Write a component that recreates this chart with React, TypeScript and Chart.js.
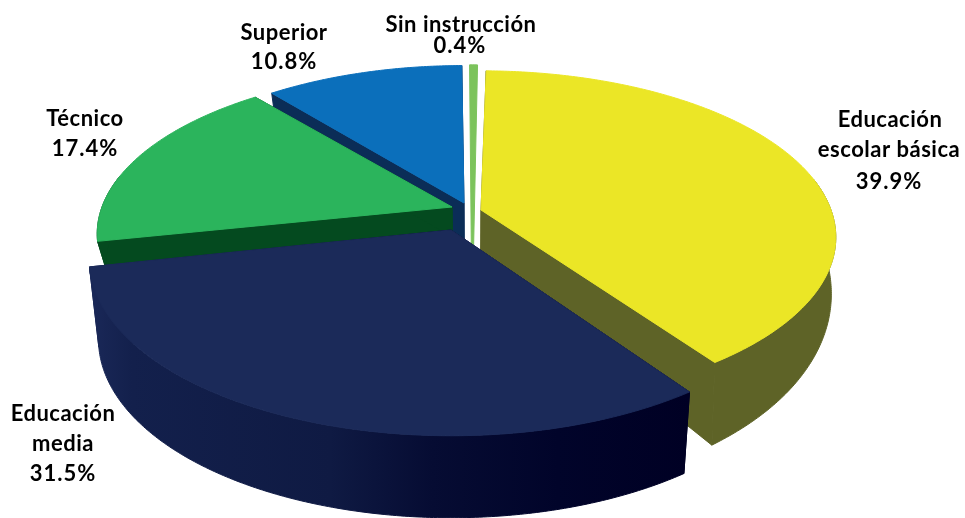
import React, { useEffect, useRef } from "react";
import { Chart, registerables } from "chart.js";

Chart.register(...registerables);

const categories = ["Sin instrucción", "Educación escolar básica", "Educación media", "Técnico", "Superior"];
const shares = [0.4, 39.9, 31.5, 17.4, 10.8];

const topColors = ["#7cc35c", "#ebe626", "#1b2a59", "#2bb45c", "#0b6fbb"];
const wallColors = ["#7cc35c", "#5e6327", "#1b2a59", "#044a1f", "#0b2d57"];

// Look of each slice in the tilted view, in pixels: apex, horizontal and vertical reach, wall height
const apexX = [472, 481, 451, 452, 464];
const apexY = [320, 210, 230, 207, 203];
const reachX = [370, 350, 357, 350, 342];
const reachY = [297, 162, 172, 160, 160];
const wallBase = [0, 50, 80, 30, 36];
const wallGrowth = [0, 40, 2, 0, 0];
const wallTaper = [0.025, 0.012, 0.025, 0.025, 0.025];
const drawOrder = [4, 3, 0, 1, 2];

const PERSPECTIVE = 0.164;
const AXIS_X = 465;
const ROTATION_DEG = -0.44;

const labelLines = [
  [["Sin instrucción", 461, 25]],
  [["Educación", 890, 120], ["escolar básica", 889, 150]],
  [["Educación", 63, 414], ["media", 63, 444]],
  [["Técnico", 85, 119]],
  [["Superior", 284, 33]],
] as [string, number, number][][];
const labelValueX = [460, 889, 63, 85, 284];
const labelValueY = [46, 182, 474, 149, 62];

const project = (i: number, t: number, onWall: boolean): [number, number] => {
  const X = Math.sin(t);
  const Y = -Math.cos(t);
  const w = 1 - PERSPECTIVE * Y;
  const sx = apexX[i] + (reachX[i] * X) / w;
  const sy = apexY[i] + (reachY[i] * Y) / w;
  if (!onWall) return [sx, sy];
  return [
    AXIS_X + (sx - AXIS_X) * (1 - wallTaper[i]),
    sy + wallBase[i] + wallGrowth[i] * Math.max(Y, 0),
  ];
};

const apexBottom = (i: number): [number, number] => [
  AXIS_X + (apexX[i] - AXIS_X) * (1 - wallTaper[i]),
  apexY[i] + wallBase[i],
];

const polygon = (
  ctx: CanvasRenderingContext2D,
  pts: [number, number][],
  fill: string | CanvasGradient,
  edge: number,
) => {
  ctx.beginPath();
  pts.forEach(([x, y], n) => (n ? ctx.lineTo(x, y) : ctx.moveTo(x, y)));
  ctx.closePath();
  ctx.fillStyle = fill;
  ctx.strokeStyle = fill;
  ctx.lineWidth = edge;
  ctx.fill();
  ctx.stroke();
};

const pie3d = {
  id: "pie3d",
  beforeDatasetDraw(chart: any) {
    const ctx: CanvasRenderingContext2D = chart.ctx;
    const arcs = chart.getDatasetMeta(0).data;
    const wallFade = ctx.createLinearGradient(90, 0, 690, 0);
    wallFade.addColorStop(0, "#1a2858");
    wallFade.addColorStop(0.07, "#13204c");
    wallFade.addColorStop(0.4, "#0f1a43");
    wallFade.addColorStop(0.57, "#060c33");
    wallFade.addColorStop(0.78, "#01042a");
    wallFade.addColorStop(1, "#000024");

    for (const i of drawOrder) {
      const arc = arcs[i];
      const t0 = arc.startAngle + Math.PI / 2;
      const t1 = arc.endAngle + Math.PI / 2;
      const steps = Math.max(2, Math.ceil((t1 - t0) / 0.01));
      const top: [number, number][] = [];
      const frontTop: [number, number][] = [];
      const frontBottom: [number, number][] = [];
      for (let s = 0; s <= steps; s++) {
        const t = t0 + ((t1 - t0) * s) / steps;
        top.push(project(i, t, false));
        if (-Math.cos(t) > -0.2) {
          frontTop.push(project(i, t, false));
          frontBottom.push(project(i, t, true));
        }
      }
      const apex: [number, number] = [apexX[i], apexY[i]];
      const apexLow = apexBottom(i);
      const wall = i === 2 ? wallFade : wallColors[i];
      if (wallBase[i] > 0) {
        polygon(ctx, [apex, top[0], project(i, t0, true), apexLow], wall, 1);
        polygon(ctx, [apex, top[steps], project(i, t1, true), apexLow], wall, 1);
        if (frontTop.length > 1) {
          polygon(ctx, [...frontTop, ...frontBottom.slice().reverse()], wall, 1);
        }
      }
      polygon(ctx, [apex, ...top], arc.options.backgroundColor, 1);
    }
    return false;
  },
  afterDraw(chart: any) {
    const ctx: any = chart.ctx;
    const values = chart.data.datasets[0].data as number[];
    ctx.save();
    ctx.font = "bold 22px Lato, Carlito, sans-serif";
    ctx.fillStyle = "#000000";
    ctx.textAlign = "center";
    ctx.textBaseline = "middle";
    labelLines.forEach((lines, i) => {
      ctx.letterSpacing = "0.5px";
      lines.forEach(([text, x, y]) => ctx.fillText(text, x, y));
      ctx.letterSpacing = "1px";
      ctx.fillText(`${values[i].toFixed(1)}%`, labelValueX[i], labelValueY[i]);
    });
    ctx.restore();
  },
};

export default function App() {
  const ref = useRef<HTMLCanvasElement>(null);
  useEffect(() => {
    const chart = new Chart(ref.current as HTMLCanvasElement, {
      type: "pie",
      data: {
        labels: categories,
        datasets: [{ data: shares, backgroundColor: topColors, borderWidth: 0 }],
      },
      options: {
        animation: false,
        responsive: false,
        rotation: ROTATION_DEG,
        plugins: { legend: { display: false }, tooltip: { enabled: false } },
      },
      plugins: [pie3d],
    } as any);
    return () => chart.destroy();
  }, []);
  return (
    <canvas
      ref={ref}
      width={965}
      height={518}
      style={{ position: "absolute", left: 0, top: 0, background: "#ffffff" }}
    />
  );
}
